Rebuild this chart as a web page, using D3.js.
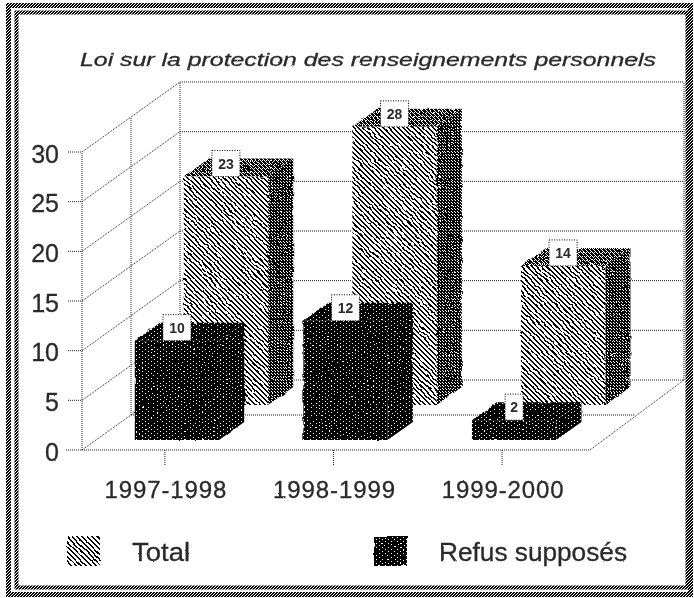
<!DOCTYPE html>
<html>
<head>
<meta charset="utf-8">
<script src="https://cdn.jsdelivr.net/npm/d3@7"></script>
<style>
  html, body { margin: 0; padding: 0; background: #fff; }
  svg { display: block; }
  text { font-family: "Liberation Sans", Arial, sans-serif; fill: #2a2a2a; }
</style>
</head>
<body>
<div id="chart"></div>
<script>
var categories = ["1997-1998", "1998-1999", "1999-2000"];
var totalValues = [23, 28, 14];
var refusValues = [10, 12, 2];
var yTickValues = [0, 5, 10, 15, 20, 25, 30];
var gridValues = [5, 10, 15, 20, 25, 30];
var chartTitle = "Loi sur la protection des renseignements personnels";
var legendLabels = ["Total", "Refus supposés"];

var width = 694, height = 598;

// depth of the box on screen, z goes from 0 (front) to 1 (back wall)
var depthX = 98, depthY = 70;
var zRefus = 0.143, zTotal = 0.643, barDepth = 0.257;

var svg = d3.select("#chart").append("svg")
  .attr("width", width)
  .attr("height", height);

var defs = svg.append("defs");

function addPattern(id, w, h, bg, fg, dots) {
  var p = defs.append("pattern")
    .attr("id", id)
    .attr("patternUnits", "userSpaceOnUse")
    .attr("width", w)
    .attr("height", h);
  p.append("rect").attr("width", w).attr("height", h).attr("fill", bg);
  dots.forEach(function(d) {
    p.append("rect")
      .attr("x", d[0]).attr("y", d[1])
      .attr("width", 1).attr("height", 1)
      .attr("fill", fg)
      .attr("shape-rendering", "crispEdges");
  });
}

// 1 bit scanned look, every fill is only black and white pixels
addPattern("totalFront", 5, 5, "#fff", "#000", [[0,0],[1,0],[1,1],[2,1],[2,2],[3,2],[3,3],[4,3],[4,4],[0,4]]);
addPattern("totalSide", 3, 3, "#000", "#fff", [[1,1],[2,2]]);
addPattern("totalTop", 4, 4, "#000", "#fff", [[0,0],[1,1],[2,2],[3,3],[2,0]]);
addPattern("refus", 6, 4, "#000", "#fff", [[1,1],[4,3]]);
addPattern("frame", 3, 3, "#000", "#fff", [[0,0],[2,1],[1,2]]);

// wobble for the bars
var rough = defs.append("filter").attr("id", "rough")
  .attr("x", "-5%").attr("y", "-5%").attr("width", "110%").attr("height", "110%")
  .attr("color-interpolation-filters", "sRGB");
rough.append("feTurbulence").attr("type", "fractalNoise").attr("baseFrequency", 0.12)
  .attr("numOctaves", 1).attr("seed", 4).attr("result", "n");
rough.append("feDisplacementMap").attr("in", "SourceGraphic").attr("in2", "n")
  .attr("scale", 3).attr("xChannelSelector", "R").attr("yChannelSelector", "G");

// text and thin lines get speckled edges
var speck = defs.append("filter").attr("id", "speck")
  .attr("x", "-5%").attr("y", "-5%").attr("width", "110%").attr("height", "110%")
  .attr("color-interpolation-filters", "sRGB");
speck.append("feTurbulence").attr("type", "fractalNoise").attr("baseFrequency", 0.6)
  .attr("numOctaves", 1).attr("seed", 7).attr("result", "n");
speck.append("feDisplacementMap").attr("in", "SourceGraphic").attr("in2", "n")
  .attr("scale", 2).attr("xChannelSelector", "R").attr("yChannelSelector", "G");

var y = d3.scaleLinear().domain([0, 30]).range([450, 152]);

var x = d3.scaleBand()
  .domain(categories)
  .range([82, 581])
  .paddingInner(0.5)
  .paddingOuter(0.23);

function px(xv, z) { return xv + z * depthX; }
function py(v, z) { return y(v) - z * depthY; }

// frame
var frame = svg.append("g");
frame.append("rect").attr("x", 8.5).attr("y", 5.5).attr("width", 682).attr("height", 589)
  .attr("fill", "none").attr("stroke", "url(#frame)").attr("stroke-width", 5);
frame.append("rect").attr("x", 16.5).attr("y", 12.5).attr("width", 671).attr("height", 575)
  .attr("fill", "none").attr("stroke", "url(#frame)").attr("stroke-width", 4);

// title
svg.append("text")
  .attr("x", 80).attr("y", 66)
  .attr("font-size", 19)
  .attr("font-style", "italic")
  .attr("textLength", 576)
  .attr("lengthAdjust", "spacingAndGlyphs")
  .style("stroke", "#2a2a2a").style("stroke-width", 0.3)
  .attr("filter", "url(#speck)")
  .text(chartTitle);

// grid lines on side wall, back wall and floor
var grid = svg.append("g")
  .attr("fill", "none")
  .attr("stroke", "#222")
  .attr("stroke-width", 1)
  .attr("stroke-dasharray", "1 1");

var xLeft = 82, xRight = 586;

function gridLine(x1, y1, x2, y2) {
  grid.append("line").attr("x1", x1).attr("y1", y1).attr("x2", x2).attr("y2", y2);
}

gridValues.forEach(function(v) {
  gridLine(68, y(v), xLeft, y(v));
  gridLine(xLeft, y(v), px(xLeft, 1), py(v, 1));
  gridLine(px(xLeft, 1), py(v, 1), px(xRight, 1), py(v, 1));
});
gridLine(xLeft, y(0), xLeft, y(30));
gridLine(px(xLeft, 0.5), py(0, 0.5), px(xLeft, 0.5), py(30, 0.5));
gridLine(px(xLeft, 1), py(0, 1), px(xLeft, 1), py(30, 1));
gridLine(px(xRight, 1), py(0, 1), px(xRight, 1), py(30, 1));
gridLine(xLeft, y(0), px(xLeft, 1), py(0, 1));
gridLine(px(xLeft, 1), py(0, 1), px(xRight, 1), py(0, 1));
gridLine(px(xLeft, 0.5), py(0, 0.5), px(xRight, 0.5), py(0, 0.5));
gridLine(66, y(0), xRight + 4, y(0));
gridLine(xRight + 4, y(0), px(xRight, 1), py(0, 1));
categories.forEach(function(c) {
  var cx = x(c) + x.bandwidth() / 2 + 2;
  gridLine(cx, y(0), cx, y(0) + 16);
});

// 3d bars
function drawBars(values, z, front, side, top, cls) {
  var g = svg.append("g").attr("class", cls).attr("filter", "url(#rough)");
  var bw = x.bandwidth();
  var bars = g.selectAll("g").data(values).enter().append("g");

  function poly(pts) {
    return pts.map(function(p) { return p.join(","); }).join(" ");
  }

  bars.append("polygon")
    .attr("fill", "url(#" + top + ")")
    .attr("points", function(d, i) {
      var x0 = x(categories[i]);
      return poly([
        [px(x0, z), py(d, z)],
        [px(x0 + bw, z), py(d, z)],
        [px(x0 + bw, z + barDepth), py(d, z + barDepth)],
        [px(x0, z + barDepth), py(d, z + barDepth)]
      ]);
    });
  bars.append("polygon")
    .attr("fill", "url(#" + side + ")")
    .attr("points", function(d, i) {
      var x0 = x(categories[i]) + bw;
      return poly([
        [px(x0, z), py(d, z)],
        [px(x0, z + barDepth), py(d, z + barDepth)],
        [px(x0, z + barDepth), py(0, z + barDepth)],
        [px(x0, z), py(0, z)]
      ]);
    });
  bars.append("rect")
    .attr("fill", "url(#" + front + ")")
    .attr("x", function(d, i) { return px(x(categories[i]), z); })
    .attr("y", function(d) { return py(d, z); })
    .attr("width", bw)
    .attr("height", function(d) { return y(0) - y(d); });
}

drawBars(totalValues, zTotal, "totalFront", "totalSide", "totalTop", "total");
drawBars(refusValues, zRefus, "refus", "refus", "refus", "refus");

// value labels in white boxes
function drawLabels(values, z) {
  var labels = svg.selectAll(null).data(values).enter().append("g")
    .attr("transform", function(d, i) {
      var cx = px(x(categories[i]), z) + x.bandwidth() / 2;
      return "translate(" + cx + "," + (py(d, z) - 14) + ")";
    });
  labels.append("rect")
    .attr("x", function(d) { return d < 10 ? -9 : -14; })
    .attr("y", -12)
    .attr("width", function(d) { return d < 10 ? 18 : 28; })
    .attr("height", 26)
    .attr("fill", "#fff")
    .attr("stroke", "#000")
    .attr("stroke-dasharray", "1 1.5");
  labels.append("text")
    .attr("text-anchor", "middle")
    .attr("y", 6)
    .attr("font-size", 14)
    .attr("font-weight", "bold")
    .attr("filter", "url(#speck)")
    .text(function(d) { return d; });
}
drawLabels(totalValues, zTotal);
drawLabels(refusValues, zRefus);

// y axis labels
var yAxis = svg.append("g")
  .attr("transform", "translate(59,2)")
  .attr("filter", "url(#speck)")
  .call(d3.axisLeft(y).tickValues(yTickValues).tickSize(0).tickPadding(0));
yAxis.select(".domain").remove();
yAxis.selectAll("text")
  .attr("font-size", 25)
  .style("font-family", "'Liberation Sans', Arial, sans-serif")
  .style("fill", "#2a2a2a")
  .style("stroke", "#2a2a2a").style("stroke-width", 0.3);

// category labels
svg.append("g")
  .attr("filter", "url(#speck)")
  .selectAll("text").data(categories).enter().append("text")
  .attr("x", function(d) { return x(d) + x.bandwidth() / 2 + 3; })
  .attr("y", 498)
  .attr("text-anchor", "middle")
  .attr("font-size", 24)
  .attr("letter-spacing", 0.9)
  .style("stroke", "#2a2a2a").style("stroke-width", 0.3)
  .text(function(d) { return d; });

// legend
var legendX = [67, 374];
var legendTextX = [132, 439];
var legendTextLen = [58, 188];
var legendFill = ["totalFront", "refus"];
var legend = svg.append("g");
legend.selectAll("rect").data(legendLabels).enter().append("rect")
  .attr("x", function(d, i) { return legendX[i]; })
  .attr("y", 536)
  .attr("width", 33)
  .attr("height", 30)
  .attr("fill", function(d, i) { return "url(#" + legendFill[i] + ")"; })
  .attr("filter", "url(#rough)");
legend.selectAll("text").data(legendLabels).enter().append("text")
  .attr("x", function(d, i) { return legendTextX[i]; })
  .attr("y", 561)
  .attr("font-size", 25)
  .attr("textLength", function(d, i) { return legendTextLen[i]; })
  .attr("lengthAdjust", "spacingAndGlyphs")
  .style("stroke", "#2a2a2a").style("stroke-width", 0.3)
  .attr("filter", "url(#speck)")
  .text(function(d) { return d; });
</script>
</body>
</html>
